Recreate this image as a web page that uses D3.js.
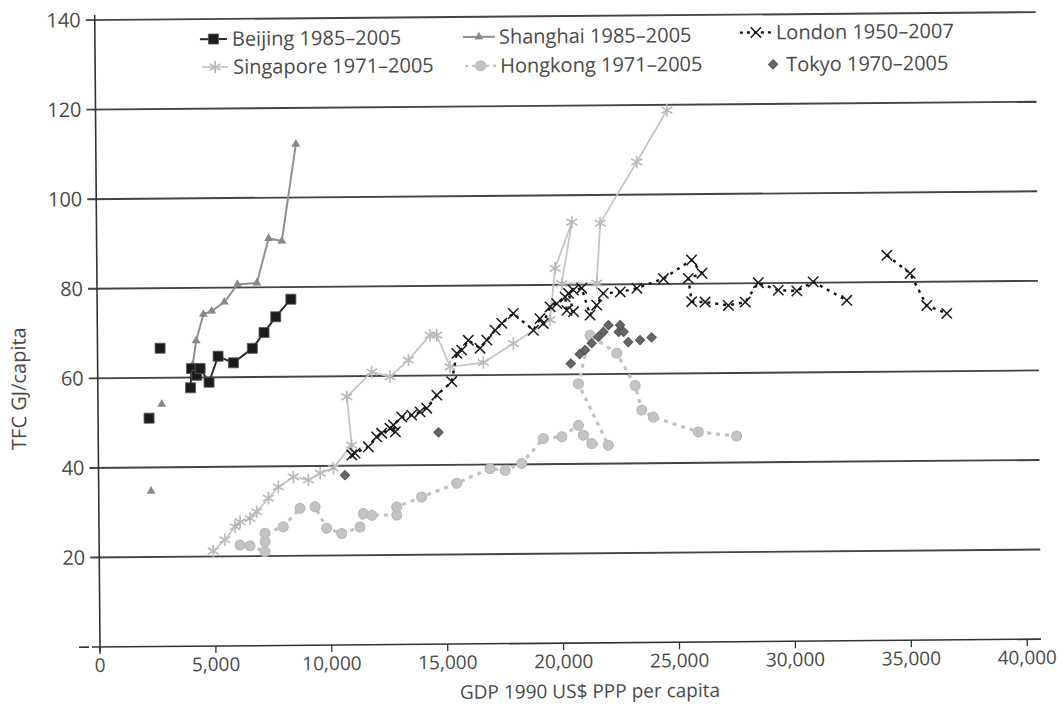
<!DOCTYPE html>
<html><head><meta charset="utf-8">
<script src="https://cdn.jsdelivr.net/npm/d3@7"></script>
<style>
html,body{margin:0;padding:0;background:#fff;}
text{font-family:"Open Sans","Noto Sans",sans-serif;fill:#4a4a4a;}
</style></head>
<body><svg id="c" width="1063" height="727"></svg>
<script>
// ---- data (GDP 1990 US$ PPP per capita, TFC GJ/capita) ----
const xTicks = [0,5000,10000,15000,20000,25000,30000,35000,40000];
const yTicks = [20,40,60,80,100,120,140];
const beijing = [[2200,51.0],null,[2700,66.6],null,[4000,57.7],[4050,62.0],[4270,60.5],[4420,62.0],[4800,58.9],[5200,64.7],[5860,63.2],[6680,66.4],[7190,69.9],[7700,73.4],[8360,77.3]];
const shanghai = [[2260,34.7],null,[2750,54.1],null,[4100,62.8],[4260,68.2],[4580,74.1],[4940,74.8],[5490,76.8],[6060,80.7],[6900,81.0],[7420,90.9],[7990,90.3],[8630,111.9]];
const london = [[10930,42.4],[11070,42.8],[11650,44.2],[12010,46.4],[12230,47.2],[12590,48.3],[12820,47.5],[12740,49.0],[13100,50.8],[13530,51.2],[13890,51.9],[14180,52.7],[14620,55.6],[15270,58.6],[15500,64.9],[15710,65.6],[16000,67.8],[16500,66.0],[16800,67.8],[17160,70.0],[17450,71.5],[17950,73.7],[18810,69.9],[19100,72.5],[19240,71.4],[19540,75.1],[19830,75.8],[20190,77.3],[20260,74.3],[20550,74.0],[20340,78.1],[20550,78.8],[20910,79.2],[21260,73.2],[21550,75.4],[21840,78.0],[22570,78.3],[23290,79.1],[24440,81.2],[25660,85.3],[26100,82.3],[25510,81.2],[25650,76.0],[26230,75.9],[27230,75.1],[27960,75.8],[28530,80.1],[29390,78.4],[30190,78.2],[30900,80.2],[32340,76.0],null,[34090,86.0],[35080,81.9],[35790,74.7],[36650,72.9]];
const singapore = [[4920,21.2],[5430,23.7],[5870,26.6],[6090,27.7],[6520,28.4],[6810,29.9],[7320,32.9],[7750,35.4],[8400,37.6],[9050,36.9],[9560,38.4],[10130,39.5],[10930,44.6],[10740,55.4],[11820,60.9],[12610,59.8],[13410,63.5],[14350,69.0],[14640,69.0],[15200,61.9],[16640,62.8],[17940,67.0],[19530,72.2],[19770,83.7],[20510,94.0],[20050,80.3],[21560,80.3],[21730,93.7],[23330,107.3],[24650,118.8]];
const hongkong = [[6080,22.5],[6510,22.3],[7150,21.0],[7160,23.2],[7160,25.1],[7950,26.5],[8680,30.6],[9330,30.9],[9820,26.1],[10470,24.9],[11260,26.3],[11410,29.3],[11770,28.9],[12850,28.9],[12850,30.7],[13930,32.9],[15450,35.9],[16890,39.1],[17540,38.7],[18260,40.2],[19200,45.7],[20000,46.1],[20720,48.6],[20930,46.4],[21290,44.5],[22000,44.1],[20730,57.9],[21250,68.7],[22400,64.6],[23180,57.4],[23460,51.9],[23950,50.3],[25890,46.9],[27540,45.9]];
const tokyo = [[10630,37.9],[14680,47.3],[20410,62.4],[20800,64.5],[21030,65.4],[21320,66.9],[21610,68.3],[21830,69.4],[22050,70.9],[22490,69.4],[22550,70.9],[22700,69.4],[22900,67.1],[23410,67.5],[23910,68.1]];
const legendLabels = ["Beijing 1985–2005","Shanghai 1985–2005","London 1950–2007","Singapore 1971–2005","Hongkong 1971–2005","Tokyo 1970–2005"];
const xTitle = "GDP 1990 US$ PPP per capita";
const yTitle = "TFC GJ/capita";

// ---- chart ----
const svg = d3.select("#c");
const x = d3.scaleLinear().domain([0,40000]).range([100,1027.2]);
const y = d3.scaleLinear().domain([0,140]).range([647,20]);
const g = svg.append("g").attr("transform","rotate(-0.48,100,647)");

// gridlines
g.append("g").selectAll("line").data(yTicks).join("line")
  .attr("x1",91).attr("x2",1041).attr("y1",d=>y(d)).attr("y2",d=>y(d))
  .attr("stroke","#444").attr("stroke-width",1.9);
// y axis
g.append("line").attr("x1",x(0)).attr("x2",x(0)).attr("y1",15).attr("y2",652)
  .attr("stroke","#333").attr("stroke-width",1.6);
// x axis
g.append("line").attr("x1",92).attr("x2",1041).attr("y1",y(0)).attr("y2",y(0))
  .attr("stroke","#333").attr("stroke-width",1.6);
g.append("line").attr("x1",79).attr("x2",89).attr("y1",y(0)).attr("y2",y(0))
  .attr("stroke","#333").attr("stroke-width",1.6);
g.append("g").selectAll("line").data(xTicks).join("line")
  .attr("x1",d=>x(d)).attr("x2",d=>x(d)).attr("y1",y(0)).attr("y2",y(0)+7)
  .attr("stroke","#333").attr("stroke-width",1.3);
g.append("g").selectAll("text").data(xTicks).join("text")
  .attr("x",d=>x(d)).attr("y",y(0)+25).attr("text-anchor","middle")
  .attr("font-size",19).text(d=>d3.format(",")(d));
g.append("g").selectAll("text").data(yTicks).join("text")
  .attr("x",86).attr("y",d=>y(d)).attr("dy","0.35em").attr("text-anchor","end")
  .attr("font-size",20).text(d=>d);
g.append("text").attr("x",(x(0)+x(40000))/2 + 26).attr("y",702).attr("text-anchor","middle")
  .attr("font-size",19).text(xTitle);
g.append("text").attr("transform","translate(28,388) rotate(-90)").attr("text-anchor","middle")
  .attr("font-size",20).text(yTitle);

const line = d3.line().defined(d=>d!==null).x(d=>x(d[0])).y(d=>y(d[1]));
const pts = a => a.filter(d=>d!==null);

const styles = {
  hongkong:{line:"#c2c2c2",w:3.2,dash:"4,5",draw:(sel)=>sel.append("circle").attr("r",5).attr("fill","#c4c4c4").attr("stroke","#b5b5b5")},
  singapore:{line:"#c6c6c6",w:1.8,dash:null,draw:(sel)=>sel.append("path").attr("d",d3.symbol(d3.symbolAsterisk,110)()).attr("fill","none").attr("stroke","#b8b8b8").attr("stroke-width",1.6)},
  shanghai:{line:"#909090",w:2,dash:null,draw:(sel)=>sel.append("path").attr("d",d3.symbol(d3.symbolTriangle,34)()).attr("fill","#888")},
  beijing:{line:"#2a2a2a",w:2,dash:null,draw:(sel)=>sel.append("rect").attr("x",-5).attr("y",-5).attr("width",10).attr("height",10).attr("fill","#1c1c1c").attr("stroke","#555").attr("stroke-width",0.8)},
  london:{line:"#111",w:2.4,dash:"3,5",draw:(sel)=>sel.append("path").attr("d",d3.symbol(d3.symbolTimes,72)()).attr("fill","none").attr("stroke","#1a1a1a").attr("stroke-width",1.5)},
  tokyo:{line:null,draw:(sel)=>sel.append("path").attr("d",d3.symbol(d3.symbolDiamond2,55)()).attr("fill","#666").attr("stroke","#555")}
};
const series = [["hongkong",hongkong],["singapore",singapore],["shanghai",shanghai],["beijing",beijing],["london",london],["tokyo",tokyo]];
series.forEach(([k,data])=>{
  const s = styles[k];
  if(s.line){
    g.append("path").datum(data).attr("d",line).attr("fill","none")
      .attr("stroke",s.line).attr("stroke-width",s.w).attr("stroke-dasharray",s.dash);
  }
  const m = g.append("g").selectAll("g").data(pts(data)).join("g")
    .attr("transform",d=>`translate(${x(d[0])},${y(d[1])})`);
  s.draw(m);
});

// legend
const leg = [
  {k:"beijing",x0:205,x1:232,tx:237,ty:40,label:legendLabels[0]},
  {k:"shanghai",x0:468,x1:500,tx:504,ty:40,label:legendLabels[1]},
  {k:"london",x0:745,x1:777,tx:781,ty:38,label:legendLabels[2]},
  {k:"singapore",x0:207,x1:233,tx:238,ty:68,label:legendLabels[3]},
  {k:"hongkong",x0:470,x1:501,tx:505,ty:69,label:legendLabels[4]},
  {k:"tokyo",x0:771,x1:785,tx:791,ty:70,label:legendLabels[5]}
];
leg.forEach(L=>{
  const s = styles[L.k];
  if(s.line){
    g.append("line").attr("x1",L.x0).attr("x2",L.x1).attr("y1",L.ty).attr("y2",L.ty)
      .attr("stroke",s.line).attr("stroke-width",Math.min(s.w,2.4)).attr("stroke-dasharray",s.dash?"3,4":null);
  }
  const m = g.append("g").attr("transform",`translate(${(L.x0+L.x1)/2},${L.ty})`);
  s.draw(m);
  g.append("text").attr("x",L.tx).attr("y",L.ty).attr("dy","0.35em").attr("font-size",20).text(L.label);
});
</script></body></html>
